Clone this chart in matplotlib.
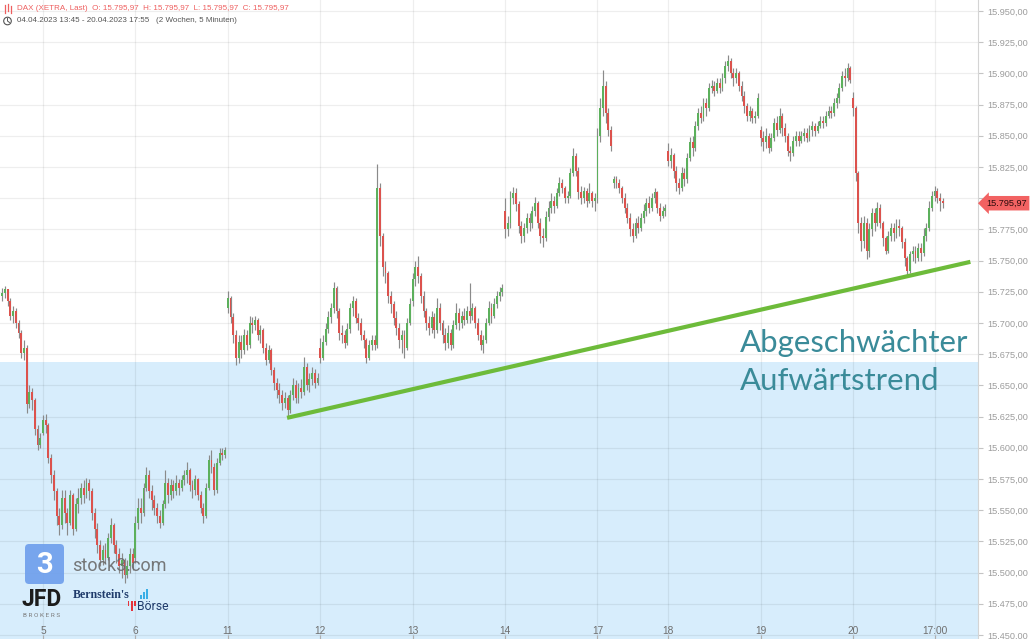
import matplotlib
matplotlib.use("Agg")
import matplotlib.pyplot as plt
import matplotlib.transforms as mtransforms
from matplotlib.patches import FancyBboxPatch, Rectangle, Circle
from matplotlib.lines import Line2D
import numpy as np

# ---------------- data (15-minute candles) ----------------
day_labels = ['4', '5', '6', '11', '12', '13', '14', '17', '18', '19', '20']
day_sizes = [15, 34, 34, 34, 34, 34, 34, 26, 34, 34, 34]
day_opens = [15722, 15612, 15512, 15712, 15680, 15718, 15790, 15800, 15838, 15855, 15880]
gap_starts = [225]          # intraday data gap on 17 April
gap_opens = [15812]
time_tick_label = '17:00'
time_tick_offset = 30       # bars after start of the last day

closes = [
    # 4 Apr
    15724, 15727, 15718, 15706, 15710, 15700, 15692, 15676, 15680, 15635, 15645, 15638, 15615, 15602, 15608,
    # 5 Apr
    15622, 15618, 15592, 15578, 15565, 15545, 15538, 15560, 15548, 15540, 15562, 15535, 15555, 15560, 15568, 15562, 15572,
    15565, 15548, 15535, 15522, 15510, 15518, 15512, 15528, 15538, 15522, 15515, 15505, 15510, 15498, 15505, 15515, 15508,
    # 6 Apr
    15540, 15552, 15548, 15568, 15578, 15565, 15558, 15552, 15545, 15540, 15555, 15572, 15562, 15570, 15565, 15572, 15568,
    15574, 15578, 15582, 15570, 15566, 15575, 15562, 15552, 15545, 15568, 15590, 15585, 15566, 15588, 15596, 15594, 15598,
    # 11 Apr
    15720, 15705, 15690, 15672, 15685, 15678, 15690, 15682, 15700, 15698, 15702, 15690, 15694, 15680, 15670, 15678, 15662,
    15652, 15646, 15642, 15636, 15640, 15630, 15642, 15650, 15640, 15648, 15645, 15665, 15650, 15655, 15660, 15652, 15656,
    # 12 Apr
    15672, 15685, 15695, 15705, 15712, 15728, 15710, 15692, 15690, 15684, 15695, 15712, 15718, 15704, 15700, 15690, 15686,
    15672, 15682, 15686, 15682, 15808, 15770, 15745, 15740, 15722, 15715, 15704, 15696, 15686, 15690, 15680, 15700, 15715,
    # 13 Apr
    15735, 15745, 15738, 15722, 15710, 15700, 15696, 15705, 15694, 15712, 15700, 15690, 15684, 15692, 15682, 15698, 15708,
    15700, 15706, 15702, 15710, 15706, 15712, 15700, 15690, 15682, 15686, 15700, 15712, 15706, 15715, 15722, 15725, 15728,
    # 14 Apr
    15775, 15780, 15800, 15804, 15795, 15778, 15770, 15776, 15784, 15780, 15790, 15796, 15780, 15770, 15768, 15785, 15792,
    15798, 15794, 15804, 15812, 15808, 15800, 15802, 15820, 15834, 15822, 15805, 15800, 15806, 15798, 15804, 15798, 15800,
    # 17 Apr
    15850, 15872, 15890, 15868, 15855, 15842, 15815, 15812, 15808, 15800, 15792, 15784, 15775, 15770, 15780, 15776, 15784,
    15790, 15796, 15792, 15800, 15805, 15792, 15786, 15790, 15792,
    # 18 Apr
    15830, 15835, 15822, 15812, 15808, 15820, 15815, 15832, 15845, 15840, 15858, 15868, 15864, 15876, 15872, 15888, 15890,
    15886, 15892, 15888, 15896, 15906, 15910, 15900, 15896, 15900, 15890, 15882, 15874, 15866, 15870, 15864, 15866, 15880,
    # 19 Apr
    15848, 15845, 15850, 15840, 15848, 15860, 15855, 15866, 15856, 15850, 15838, 15836, 15846, 15850, 15846, 15850, 15852,
    15848, 15855, 15858, 15854, 15858, 15862, 15860, 15866, 15870, 15868, 15876, 15880, 15888, 15898, 15896, 15904, 15895,
    # 20 Apr
    15872, 15820, 15780, 15766, 15780, 15758, 15775, 15788, 15780, 15792, 15780, 15768, 15758, 15770, 15776, 15772, 15778,
    15776, 15765, 15752, 15742, 15755, 15758, 15752, 15760, 15756, 15770, 15776, 15792, 15802, 15806, 15800, 15798, 15795.97,
]

highs = [
    15728, 15730, 15726, 15720, 15714, 15712, 15702, 15694, 15686, 15682, 15650, 15648, 15640, 15618, 15612,
    15626, 15627, 15620, 15595, 15582, 15568, 15552, 15566, 15566, 15552, 15566, 15564, 15560, 15568, 15572, 15574, 15576,
    15575, 15568, 15552, 15540, 15526, 15522, 15524, 15532, 15544, 15540, 15526, 15520, 15516, 15512, 15510, 15520, 15520,
    15545, 15560, 15560, 15572, 15585, 15582, 15570, 15562, 15556, 15550, 15558, 15582, 15576, 15575, 15574, 15578, 15575,
    15578, 15582, 15589, 15584, 15574, 15578, 15576, 15565, 15556, 15572, 15594, 15598, 15588, 15592, 15600, 15600, 15601,
    15726, 15722, 15708, 15694, 15690, 15690, 15695, 15694, 15706, 15705, 15706, 15704, 15698, 15696, 15684, 15682, 15680,
    15665, 15656, 15652, 15646, 15645, 15642, 15646, 15656, 15654, 15652, 15655, 15673, 15668, 15660, 15665, 15663, 15660,
    15688, 15690, 15700, 15710, 15716, 15733, 15730, 15712, 15698, 15694, 15700, 15716, 15722, 15720, 15708, 15704, 15694,
    15688, 15686, 15690, 15690, 15827, 15812, 15772, 15750, 15742, 15726, 15718, 15710, 15700, 15694, 15694, 15704, 15720,
    15740, 15750, 15754, 15740, 15726, 15712, 15706, 15710, 15708, 15720, 15716, 15702, 15696, 15698, 15695, 15702, 15716,
    15712, 15710, 15712, 15714, 15732, 15716, 15714, 15704, 15694, 15690, 15704, 15718, 15716, 15720, 15726, 15729, 15731,
    15800, 15786, 15806, 15809, 15808, 15798, 15782, 15780, 15788, 15788, 15794, 15801, 15798, 15784, 15776, 15790, 15798,
    15804, 15802, 15808, 15817, 15815, 15810, 15806, 15824, 15840, 15836, 15825, 15810, 15809, 15808, 15812, 15806, 15804,
    15856, 15880, 15903, 15894, 15872, 15858, 15818, 15818, 15815, 15810, 15804, 15796, 15788, 15780, 15784, 15786, 15788,
    15795, 15800, 15802, 15804, 15808, 15806, 15796, 15794, 15795,
    15844, 15840, 15836, 15826, 15816, 15825, 15824, 15836, 15849, 15850, 15862, 15872, 15874, 15880, 15880, 15892, 15895,
    15894, 15896, 15896, 15900, 15910, 15915, 15912, 15904, 15904, 15902, 15894, 15886, 15876, 15874, 15872, 15870, 15884,
    15858, 15854, 15856, 15852, 15852, 15864, 15866, 15872, 15868, 15860, 15852, 15842, 15850, 15854, 15854, 15854, 15856,
    15856, 15859, 15862, 15860, 15862, 15866, 15866, 15870, 15874, 15874, 15880, 15884, 15892, 15902, 15904, 15908, 15906,
    15885, 15874, 15822, 15785, 15786, 15784, 15780, 15792, 15792, 15797, 15795, 15782, 15770, 15774, 15780, 15780, 15783,
    15783, 15778, 15768, 15754, 15758, 15762, 15762, 15764, 15764, 15776, 15780, 15798, 15806, 15810, 15808, 15804, 15800,
]

lows = [
    15718, 15720, 15714, 15702, 15700, 15696, 15688, 15672, 15670, 15628, 15632, 15630, 15610, 15598, 15600,
    15610, 15612, 15588, 15572, 15558, 15538, 15530, 15535, 15540, 15530, 15538, 15530, 15533, 15548, 15555, 15556, 15560,
    15558, 15542, 15528, 15516, 15505, 15506, 15508, 15510, 15524, 15516, 15508, 15500, 15496, 15492, 15496, 15500, 15502,
    15508, 15535, 15540, 15545, 15565, 15560, 15550, 15546, 15540, 15536, 15538, 15552, 15556, 15558, 15560, 15562, 15562,
    15565, 15570, 15572, 15565, 15560, 15562, 15558, 15548, 15540, 15544, 15566, 15580, 15562, 15564, 15586, 15590, 15592,
    15708, 15700, 15684, 15666, 15668, 15672, 15675, 15678, 15680, 15692, 15694, 15686, 15684, 15676, 15666, 15668, 15658,
    15646, 15640, 15636, 15630, 15632, 15624, 15628, 15638, 15636, 15636, 15640, 15642, 15646, 15645, 15650, 15648, 15650,
    15668, 15670, 15682, 15692, 15700, 15708, 15704, 15686, 15684, 15680, 15682, 15692, 15706, 15700, 15694, 15686, 15680,
    15668, 15670, 15678, 15678, 15680, 15762, 15738, 15732, 15716, 15708, 15698, 15690, 15680, 15676, 15672, 15678, 15698,
    15714, 15730, 15732, 15716, 15705, 15694, 15690, 15692, 15688, 15692, 15694, 15684, 15678, 15680, 15678, 15680, 15695,
    15694, 15696, 15698, 15700, 15700, 15702, 15696, 15686, 15678, 15676, 15684, 15698, 15700, 15704, 15712, 15718, 15722,
    15768, 15770, 15776, 15795, 15790, 15772, 15764, 15765, 15772, 15774, 15776, 15786, 15776, 15764, 15761, 15766, 15782,
    15788, 15788, 15792, 15802, 15804, 15796, 15796, 15800, 15818, 15818, 15799, 15795, 15796, 15793, 15796, 15793, 15790,
    15796, 15845, 15866, 15860, 15850, 15838, 15808, 15808, 15804, 15796, 15788, 15780, 15770, 15765, 15768, 15772, 15774,
    15780, 15786, 15788, 15790, 15796, 15788, 15782, 15784, 15786,
    15826, 15824, 15816, 15806, 15803, 15806, 15810, 15812, 15830, 15834, 15838, 15855, 15860, 15862, 15866, 15870, 15884,
    15882, 15884, 15884, 15886, 15892, 15902, 15896, 15890, 15892, 15886, 15878, 15868, 15862, 15862, 15860, 15860, 15864,
    15842, 15838, 15840, 15836, 15838, 15846, 15850, 15852, 15850, 15845, 15834, 15830, 15834, 15842, 15842, 15844, 15846,
    15845, 15846, 15850, 15850, 15852, 15856, 15856, 15858, 15864, 15864, 15866, 15872, 15876, 15886, 15890, 15894, 15892,
    15866, 15814, 15772, 15758, 15760, 15751, 15753, 15770, 15774, 15778, 15776, 15762, 15755, 15756, 15766, 15766, 15768,
    15770, 15760, 15746, 15738, 15740, 15750, 15748, 15750, 15750, 15754, 15766, 15774, 15790, 15798, 15796, 15790, 15792,
]

zone_top = 15669                       # shaded zone upper bound
trend_idx = [104.8, 356.2]             # trend line (bar index)
trend_price = [15624, 15749]           # trend line (price)
annotation_lines = ['Abgeschwächter', 'Aufwärtstrend']
header_line1 = 'DAX (XETRA, Last)  O: 15.795,97  H: 15.795,97  L: 15.795,97  C: 15.795,97'
header_line2 = '04.04.2023 13:45 - 20.04.2023 17:55   (2 Wochen, 5 Minuten)'
y_ticks = list(range(15450, 15951, 25))


def de(v):
    return f"{v:,.2f}".replace(',', 'X').replace('.', ',').replace('X', '.')


# ---------------- build OHLC ----------------
c = np.array(closes, float)
h = np.array(highs, float)
l = np.array(lows, float)
n = len(c)
o = np.r_[c[0], c[:-1]]
day_starts = np.r_[0, np.cumsum(day_sizes)[:-1]]
for s, op in zip(list(day_starts) + gap_starts, day_opens + gap_opens):
    o[s] = op
h = np.maximum(h, np.maximum(o, c))
l = np.minimum(l, np.minimum(o, c))
x = np.arange(n)

W, H = 1030, 639
fig = plt.figure(figsize=(W / 100, H / 100), dpi=100)
fig.patch.set_facecolor('white')
ax = fig.add_axes([0, 0, 978 / W, 1])
ax.set_xlim(-0.81, 359.0)
ax.set_ylim(15446.8, 15958.8)
ax.set_facecolor('white')
for s in ['top', 'left', 'bottom']:
    ax.spines[s].set_visible(False)
ax.spines['right'].set_color('#d4d4d4')
ax.spines['right'].set_linewidth(0.8)

# zone
ax.axhspan(15446.8, zone_top, color='#d7edfc', zorder=0, lw=0)

# grid
for yv in y_ticks:
    ax.axhline(yv, color=(0, 0, 0, 0.065), lw=0.9, zorder=1)
tick_pos = list(day_starts[1:]) + [day_starts[-1] + time_tick_offset]
tick_lab = day_labels[1:] + [time_tick_label]
for xv in tick_pos:
    ax.axvline(xv, color=(0, 0, 0, 0.065), lw=0.9, zorder=1)

# candles
ax.vlines(x, l, h, color='#8a8a8a', lw=0.85, zorder=3)
up = c >= o
body = c - o
body = np.where(np.abs(body) < 1.0, np.where(up, 1.0, -1.0), body)
ax.bar(x[up], body[up], bottom=o[up], width=0.7, color='#5cb05c', lw=0, zorder=4)
ax.bar(x[~up], body[~up], bottom=o[~up], width=0.7, color='#dc524d', lw=0, zorder=4)

# trend line
ax.plot(trend_idx, trend_price, color='#6dbb3a', lw=3.0, solid_capstyle='butt', zorder=6)

# y axis on right
ax.yaxis.tick_right()
ax.set_yticks(y_ticks)
ax.set_yticklabels([de(v) for v in y_ticks], fontsize=6.6, color='#9c9c9c', family='Liberation Sans')
ax.tick_params(axis='y', length=3.5, width=0.8, color='#c4c4c4', pad=3)

# x axis labels inside
ax.set_xticks(tick_pos)
ax.set_xticklabels([])
ax.tick_params(axis='x', direction='in', length=3, width=0.8, color='#b0b0b0')
blend = mtransforms.blended_transform_factory(ax.transData, ax.transAxes)
for xv, lab in zip(tick_pos, tick_lab):
    ax.text(xv, 8 / H, lab, transform=blend, ha='center', va='center', fontsize=7.3,
            color='#6e6e6e', family='Liberation Sans', zorder=7)

# pixel transform for overlays (image pixel coordinates, y downwards)
px = mtransforms.Affine2D().scale(1 / W, -1 / H).translate(0, 1) + fig.transFigure

# header
fig.text(17, 9, header_line1, transform=px, fontsize=5.8, color='#ee5f5f', va='center',
         family='Liberation Sans')
fig.text(17, 21, header_line2, transform=px, fontsize=5.8, color='#555555', va='center',
         family='Liberation Sans')
for xx, y0, y1 in [(5, 5, 13), (8, 4, 11), (11, 6, 13)]:
    fig.add_artist(Line2D([xx, xx], [y0, y1], transform=px, color='#ee5f5f', lw=0.9))
fig.add_artist(Circle((7.5, 21), 3.8, transform=px, fill=False, ec='#555555', lw=0.8))
fig.add_artist(Line2D([7.5, 7.5, 9.5], [18.5, 21, 22.5], transform=px, color='#555555', lw=0.7))

# annotation text
fig.text(740, 352, annotation_lines[0], transform=px, fontsize=22.4, color='#3a8b99',
         family='Lato', va='baseline')
fig.text(740, 390, annotation_lines[1], transform=px, fontsize=22.4, color='#3a8b99',
         family='Lato', va='baseline')

# last price tag
last = c[-1]
ydisp = ax.transData.transform((0, last))[1]
fig.text(986 / W, ydisp / H, de(last), fontsize=6.6, color='#2a0a0a', va='center', ha='left',
         family='Liberation Sans',
         bbox=dict(boxstyle='larrow,pad=0.3', fc='#f26262', ec='none'), zorder=10)

# logos
fig.add_artist(FancyBboxPatch((25, 544), 39, 40, boxstyle='round,pad=0,rounding_size=4',
                              transform=px, fc='#6d9eec', ec='none', alpha=0.9, zorder=8))
fig.text(44.5, 565, '3', transform=px, fontsize=21, color='white', ha='center', va='center',
         family='Roboto', fontweight='bold', zorder=9)
fig.text(72, 566, 'stock3.com', transform=px, fontsize=13, color='#6a6a6a', va='center',
         family='Roboto', alpha=0.9, zorder=9)
fig.text(22, 600, 'JFD', transform=px, fontsize=16.5, color='#1c1c1c', va='center',
         family='Roboto', fontweight='bold', zorder=9)
fig.text(23, 615.5, 'B R O K E R S', transform=px, fontsize=4.6, color='#7a7a7a', va='center',
         family='Roboto', zorder=9)
fig.text(73, 595, "Bernstein's", transform=px, fontsize=8.6, color='#1f3b6b', va='center',
         family='Liberation Serif', fontweight='bold', zorder=9)
for bx, bh in [(140, 4), (143, 7), (146, 10)]:
    fig.add_artist(Rectangle((bx, 599), 2, -bh, transform=px, fc='#39aee6', ec='none', zorder=9))
fig.text(137, 606, 'Börse', transform=px, fontsize=8.8, color='#1f3b6b', va='center',
         family='Roboto', zorder=9)
fig.add_artist(Rectangle((130.5, 601), 2.6, 10, transform=px, fc='#e5333b', ec='none', zorder=9))
fig.add_artist(Rectangle((127.5, 601), 1.8, 4.5, transform=px, fc='#e5333b', ec='none', zorder=9))
fig.add_artist(Rectangle((134.3, 601), 1.8, 4.5, transform=px, fc='#e5333b', ec='none', zorder=9))

fig.savefig('out.png', dpi=100, facecolor='white')
